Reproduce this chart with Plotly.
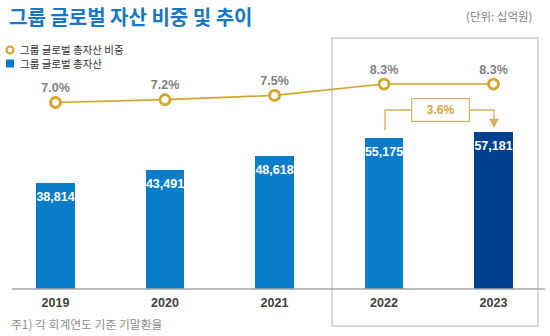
import plotly.graph_objects as go

years = ["2019", "2020", "2021", "2022", "2023"]
assets = [38814, 43491, 48618, 55175, 57181]
share = [7.0, 7.2, 7.5, 8.3, 8.3]
growth_label = "3.6%"

title = "그룹 글로벌 자산 비중 및 추이"
unit_text = "(단위: 십억원)"
legend_line = "그룹 글로벌 총자산 비중"
legend_bar = "그룹 글로벌 총자산"
footnote = "주1) 각 회계연도 기준 기말환율"

W, H = 550, 336
BLUE = "#0A7DCA"
NAVY = "#00408E"
GOLD = "#D4A52A"
TAN = "#D9AE5C"
KR = "Noto Sans CJK KR"
LAT = "Liberation Sans, Arial, sans-serif"

def px(x):
    return x / W

def py(y):
    return 1 - y / H

bar_colors = [BLUE] * (len(years) - 1) + [NAVY]

fig = go.Figure()
fig.add_trace(go.Bar(
    x=years, y=assets, marker=dict(color=bar_colors, line=dict(width=0)),
    width=0.356, showlegend=False, hoverinfo="skip",
))
# bar value labels (placed just under each bar top)
fig.add_trace(go.Scatter(
    x=years, y=assets, mode="markers+text",
    marker=dict(size=12, opacity=0),
    text=[f"{v:,}" for v in assets], textposition="bottom center",
    textfont=dict(family=LAT, size=12.5, color="white", weight="bold"),
    showlegend=False, hoverinfo="skip", cliponaxis=False,
))
fig.add_trace(go.Scatter(
    x=years, y=share, yaxis="y2", mode="lines+markers+text",
    line=dict(color=GOLD, width=1.6),
    marker=dict(size=10, color="white", line=dict(color=GOLD, width=2.8)),
    text=[f"{v:.1f}%" for v in share], textposition="top center",
    textfont=dict(family=LAT, size=12.5, color="#7F7F7F", weight="bold"),
    showlegend=False, hoverinfo="skip", cliponaxis=False,
))

annotations = [
    dict(x=px(7), y=py(16), xref="paper", yref="paper", text=f"<b>{title}</b>",
         showarrow=False, xanchor="left", yanchor="middle",
         font=dict(family=KR, size=20, color="#1677C4")),
    dict(x=px(534), y=py(16), xref="paper", yref="paper", text=unit_text,
         showarrow=False, xanchor="right", yanchor="middle",
         font=dict(family=KR, size=11.5, color="#7F7F7F")),
    dict(x=px(18), y=py(49.5), xref="paper", yref="paper", text=legend_line,
         showarrow=False, xanchor="left", yanchor="middle",
         font=dict(family=KR, size=10.5, color="#333333")),
    dict(x=px(18), y=py(63.5), xref="paper", yref="paper", text=legend_bar,
         showarrow=False, xanchor="left", yanchor="middle",
         font=dict(family=KR, size=10.5, color="#333333")),
    dict(x=px(9), y=py(323), xref="paper", yref="paper", text=footnote,
         showarrow=False, xanchor="left", yanchor="middle",
         font=dict(family=KR, size=11.8, color="#8C8C8C")),
    # growth label box
    dict(x=px(440.5), y=py(110), xref="paper", yref="paper", text=f"<b>{growth_label}</b>",
         showarrow=False, xanchor="center", yanchor="middle",
         width=55, height=20, bgcolor="white", bordercolor=TAN, borderwidth=1.2,
         font=dict(family=LAT, size=12, color="#D9A441")),
]

shapes = [
    # highlight box 2022-2023
    dict(type="rect", xref="paper", yref="paper", x0=px(332), x1=px(538),
         y0=py(326), y1=py(38), line=dict(color="#B4B4B4", width=1), layer="below"),
    # baseline axis
    dict(type="line", xref="paper", yref="paper", x0=px(12), x1=px(545),
         y0=py(289), y1=py(289), line=dict(color="#A6A6A6", width=1.5)),
    # growth connector
    dict(type="path", xref="paper", yref="paper",
         path=f"M {px(385)} {py(130)} L {px(385)} {py(110)} L {px(494)} {py(110)} L {px(494)} {py(120)}",
         line=dict(color=TAN, width=1.3)),
    # arrow head
    dict(type="path", xref="paper", yref="paper",
         path=f"M {px(489.5)} {py(119)} L {px(498.5)} {py(119)} L {px(494)} {py(127.5)} Z",
         line=dict(color=TAN, width=0.5), fillcolor=TAN),
    # legend symbols
    dict(type="circle", xref="paper", yref="paper", x0=px(6.5), x1=px(13.5),
         y0=py(53.5), y1=py(46.5), line=dict(color=GOLD, width=2.2), fillcolor="white"),
    dict(type="rect", xref="paper", yref="paper", x0=px(6), x1=px(14),
         y0=py(67.5), y1=py(59.5), line=dict(width=0), fillcolor=BLUE),
]

k = 0.00274
bottom = 289
y_max = bottom / k
pp = 14.2
s_min = 7.0 - (bottom - 102.5) / pp
s_max = s_min + bottom / pp
step = 109.5
c0 = 55.5

fig.update_layout(
    width=W, height=H, margin=dict(l=0, r=0, t=0, b=0),
    paper_bgcolor="white", plot_bgcolor="white",
    bargap=0,
    xaxis=dict(type="category", range=[-c0 / step, (W - c0) / step], showgrid=False,
               zeroline=False, showline=False, ticks="", ticklabelstandoff=4,
               tickfont=dict(family=LAT, size=12.5, color="#404040", weight="bold")),
    yaxis=dict(domain=[(H - bottom) / H, 1], range=[0, y_max], visible=False),
    yaxis2=dict(overlaying="y", range=[s_min, s_max], visible=False),
    annotations=annotations, shapes=shapes,
)

fig.write_html("out.html")
